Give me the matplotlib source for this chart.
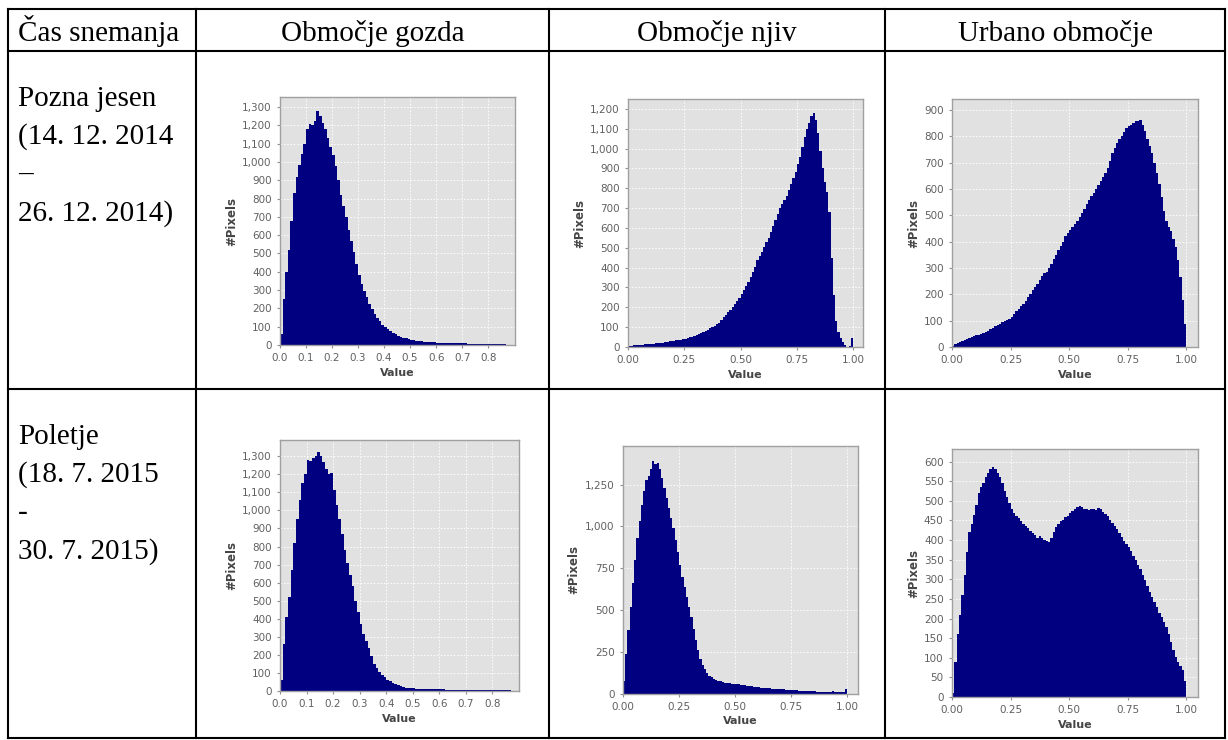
import numpy as np
import matplotlib
matplotlib.use("Agg")
import matplotlib.pyplot as plt
from matplotlib.lines import Line2D
from matplotlib.ticker import FuncFormatter, FormatStrFormatter

# ---------------- data (histogram bin heights, bin width 0.01) ----------------
BIN = 0.01

forest_autumn = [60, 250, 400, 520, 680, 830, 920, 985, 1045, 1100,
                 1180, 1205, 1200, 1225, 1280, 1250, 1215, 1180, 1130, 1080,
                 1040, 980, 900, 820, 760, 700, 630, 570, 510, 440,
                 385, 335, 295, 260, 225, 195, 170, 150, 130, 112,
                 98, 85, 75, 66, 58, 50, 45, 40, 36, 33,
                 30, 27, 24, 22, 20, 18, 17, 16, 15, 14,
                 13, 13, 12, 12, 11, 11, 10, 10, 10, 9,
                 9, 9, 8, 8, 8, 8, 7, 7, 7, 7,
                 6, 6, 6, 5, 5, 4, 3]

fields_autumn = [5, 7, 8, 9, 10, 11, 12, 13, 14, 15,
                 16, 17, 18, 19, 20, 22, 24, 26, 28, 30,
                 32, 33, 35, 37, 40, 42, 45, 48, 52, 56,
                 60, 65, 70, 76, 82, 88, 95, 100, 108, 115,
                 122, 135, 150, 160, 175, 185, 200, 215, 230, 245,
                 265, 285, 305, 330, 355, 380, 405, 440, 460, 480,
                 505, 530, 550, 580, 610, 640, 670, 700, 720, 740,
                 760, 790, 820, 850, 880, 920, 960, 1010, 1060, 1100,
                 1130, 1165, 1180, 1145, 1080, 990, 900, 830, 780, 680,
                 450, 260, 130, 75, 45, 25, 8, 2, 3, 45]

urban_autumn = [5, 10, 14, 18, 22, 25, 30, 34, 38, 42,
                44, 47, 50, 55, 58, 62, 68, 74, 80, 85,
                89, 94, 98, 102, 108, 114, 125, 135, 145, 155,
                165, 175, 190, 200, 215, 228, 240, 255, 270, 280,
                285, 300, 315, 335, 350, 368, 385, 400, 420, 432,
                444, 455, 468, 480, 495, 508, 525, 545, 560, 575,
                584, 600, 615, 630, 645, 660, 680, 705, 735, 755,
                774, 790, 800, 815, 830, 838, 845, 850, 858, 860,
                863, 845, 820, 790, 765, 736, 700, 660, 620, 570,
                515, 480, 455, 440, 410, 380, 330, 266, 178, 89]

forest_summer = [60, 260, 410, 520, 670, 818, 950, 1060, 1150, 1200,
                 1280, 1275, 1290, 1300, 1325, 1300, 1270, 1230, 1200, 1210,
                 1115, 1030, 950, 870, 780, 707, 640, 580, 500, 440,
                 370, 318, 275, 240, 195, 150, 125, 105, 90, 75,
                 63, 53, 44, 36, 31, 26, 22, 19, 17, 15,
                 14, 13, 12, 11, 11, 10, 10, 10, 9, 9,
                 9, 9, 8, 8, 8, 8, 8, 8, 8, 8,
                 8, 8, 8, 8, 8, 7, 7, 7, 7, 7,
                 7, 7, 7, 6, 6, 5, 4]

fields_summer = [80, 240, 380, 520, 660, 800, 930, 1030, 1130, 1210,
                 1280, 1300, 1340, 1390, 1370, 1380, 1340, 1290, 1230, 1170,
                 1110, 1050, 990, 920, 850, 770, 700, 640, 580, 520,
                 460, 390, 320, 260, 210, 175, 150, 125, 110, 100,
                 92, 85, 80, 76, 72, 68, 65, 63, 62, 60,
                 60, 58, 56, 55, 53, 50, 48, 46, 44, 42,
                 40, 38, 36, 35, 34, 33, 32, 31, 30, 29,
                 28, 27, 26, 25, 24, 23, 22, 21, 20, 19,
                 18, 17, 16, 16, 15, 15, 14, 14, 13, 13,
                 13, 12, 12, 15, 12, 12, 11, 10, 10, 30]

urban_summer = [10, 90, 160, 210, 260, 310, 370, 420, 440, 465,
                490, 520, 535, 545, 560, 570, 580, 585, 580, 570,
                560, 545, 525, 510, 495, 480, 470, 462, 455, 448,
                440, 436, 430, 424, 418, 412, 405, 410, 405, 400,
                398, 395, 405, 420, 432, 440, 448, 452, 458, 462,
                468, 474, 480, 484, 488, 485, 480, 478, 476, 478,
                480, 476, 482, 478, 472, 466, 460, 452, 444, 436,
                428, 418, 408, 398, 390, 382, 372, 360, 348, 336,
                325, 312, 298, 282, 268, 255, 243, 230, 215, 203,
                192, 178, 160, 140, 120, 102, 90, 80, 70, 42]

# table texts
col_headers = ["Čas snemanja", "Območje gozda", "Območje njiv", "Urbano območje"]
row_labels = [["Pozna jesen", "(14. 12. 2014", "–", "26. 12. 2014)"],
              ["Poletje", "(18. 7. 2015", "-", "30. 7. 2015)"]]

# ticks
xt_forest = [0.0, 0.1, 0.2, 0.3, 0.4, 0.5, 0.6, 0.7, 0.8]
xt_quart = [0.0, 0.25, 0.5, 0.75, 1.0]
yt_forest = list(range(0, 1301, 100))
yt_fields_a = list(range(0, 1201, 100))
yt_urban_a = list(range(0, 901, 100))
yt_fields_s = [0, 250, 500, 750, 1000, 1250]
yt_urban_s = list(range(0, 601, 50))

# ---------------- figure ----------------
W, H = 1228, 740
fig = plt.figure(figsize=(W / 100, H / 100), dpi=100)
fig.patch.set_facecolor("white")


def px(x, y):
    return x / W, 1 - y / H


def hline(y, x0, x1):
    fig.add_artist(Line2D([x0 / W, x1 / W], [1 - y / H, 1 - y / H],
                          color="black", lw=1.5, transform=fig.transFigure))


def vline(x, y0, y1):
    fig.add_artist(Line2D([x / W, x / W], [1 - y0 / H, 1 - y1 / H],
                          color="black", lw=1.5, transform=fig.transFigure))


col_x = [8, 196, 549, 885, 1225]
row_y = [9, 51, 389, 738]
for y in row_y:
    hline(y, col_x[0], col_x[-1])
for x in col_x:
    vline(x, row_y[0], row_y[-1])

serif = "Liberation Serif"
# header
fig.text(*px(18, 41), col_headers[0], fontsize=21, family=serif, va="baseline", ha="left")
for i in range(1, 4):
    cx = (col_x[i] + col_x[i + 1]) / 2
    fig.text(*px(cx, 41), col_headers[i], fontsize=21, family=serif, va="baseline", ha="center")

# row labels
base = [106, 144, 182, 221]
for r, lines in enumerate(row_labels):
    for k, t in enumerate(lines):
        fig.text(*px(18, base[k] + r * 338), t, fontsize=21, family=serif,
                 va="baseline", ha="left")

# ---------------- histograms ----------------
navy = "#000080"
comma_fmt = FuncFormatter(lambda v, p: f"{int(v):,}")

panels = [
    (280, 97, 515, 345, forest_autumn, 0.903, 1355, xt_forest, "%.1f", yt_forest),
    (628, 99, 863, 347, fields_autumn, 1.044, 1250, xt_quart, "%.2f", yt_fields_a),
    (952, 99, 1198, 347, urban_autumn, 1.05, 942, xt_quart, "%.2f", yt_urban_a),
    (280, 440, 519, 691, forest_summer, 0.90, 1390, xt_forest, "%.1f", yt_forest),
    (623, 446, 858, 694, fields_summer, 1.047, 1480, xt_quart, "%.2f", yt_fields_s),
    (952, 449, 1198, 697, urban_summer, 1.05, 632, xt_quart, "%.2f", yt_urban_s),
]

for (l, t, r, b, vals, xmax, ymax, xt, xfmt, yt) in panels:
    ax = fig.add_axes([l / W, 1 - b / H, (r - l) / W, (b - t) / H])
    ax.set_facecolor("#e1e1e1")
    xs = np.arange(len(vals)) * BIN
    ax.bar(xs, vals, width=BIN, align="edge", color=navy, linewidth=0)
    ax.set_xlim(0, xmax)
    ax.set_ylim(0, ymax)
    ax.set_xticks(xt)
    ax.set_yticks(yt)
    ax.xaxis.set_major_formatter(FormatStrFormatter(xfmt))
    ax.yaxis.set_major_formatter(comma_fmt)
    ax.grid(True, color="white", lw=0.6, ls=(0, (2, 2)))
    ax.set_axisbelow(True)
    for s in ax.spines.values():
        s.set_color("#a0a0a0")
        s.set_linewidth(1.0)
    ax.tick_params(length=2, width=0.8, color="#909090", labelsize=7.5,
                   labelcolor="#606060", pad=4)
    ax.set_xlabel("Value", fontsize=8, fontweight="bold", color="#454545", labelpad=3)
    ax.set_ylabel("#Pixels", fontsize=8.5, fontweight="bold", color="#454545", labelpad=3)

fig.savefig("out.png", dpi=100)
